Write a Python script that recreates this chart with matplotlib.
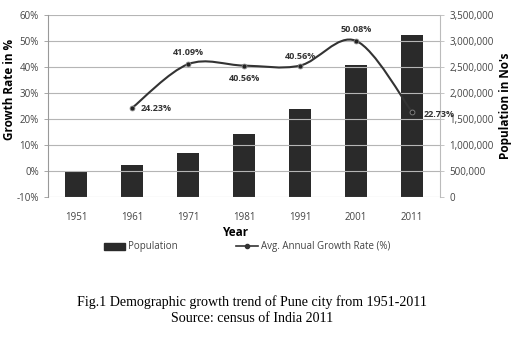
import numpy as np
import matplotlib.pyplot as plt
from matplotlib.path import Path
from matplotlib.patches import PathPatch
from matplotlib.lines import Line2D
from matplotlib.ticker import FuncFormatter

# data (census of India)
years = ['1951', '1961', '1971', '1981', '1991', '2001', '2011']
population = [488419, 606777, 856105, 1203351, 1691430, 2538473, 3124458]
growth_years = [1, 2, 3, 4, 5, 6]
growth_rate = [24.23, 41.09, 40.56, 40.56, 50.08, 22.73]
growth_labels = ['24.23%', '41.09%', '40.56%', '40.56%', '50.08%', '22.73%']

tick_font = 'Open Sans'
tick_col = '#444444'

fig = plt.figure(figsize=(5.27, 3.5), dpi=100)
ax = fig.add_axes([0.091, 0.437, 0.744, 0.52])
ax2 = ax.twinx()

x = np.arange(len(years))

# bars on right axis, line on left axis
ax2.bar(x, population, width=0.38, color='#2a2a2a', zorder=2)
ax2.set_ylim(0, 3500000)
ax2.set_yticks(np.arange(0, 3500001, 500000))
ax2.yaxis.set_major_formatter(FuncFormatter(lambda v, p: f'{int(v):,}'))

ax.set_ylim(-10, 60)
ax.set_yticks(np.arange(-10, 61, 10))
ax.yaxis.set_major_formatter(FuncFormatter(lambda v, p: f'{int(v)}%'))
ax.set_xlim(-0.5, 6.5)
ax.set_xticks(x)
ax.set_xticklabels(years)
ax.grid(axis='y', color='#b5b5b5', linewidth=0.8)
ax.set_axisbelow(True)

# line goes above the bars
ax.set_zorder(ax2.get_zorder() + 1)
ax.patch.set_visible(False)

# smoothed line like Excel (Catmull-Rom -> cubic Bezier)
px = np.array(growth_years, dtype=float)
py = np.array(growth_rate, dtype=float)
verts = [(px[0], py[0])]
codes = [Path.MOVETO]
n = len(px)
for i in range(n - 1):
    p0 = i - 1 if i > 0 else i
    p3 = i + 2 if i + 2 < n else i + 1
    c1 = (px[i] + (px[i + 1] - px[p0]) / 6, py[i] + (py[i + 1] - py[p0]) / 6)
    c2 = (px[i + 1] - (px[p3] - px[i]) / 6, py[i + 1] - (py[p3] - py[i]) / 6)
    verts += [c1, c2, (px[i + 1], py[i + 1])]
    codes += [Path.CURVE4] * 3
ax.add_patch(PathPatch(Path(verts, codes), fill=False, edgecolor='#333333',
                       linewidth=1.5, zorder=3))
ax.plot(px, py, 'o', color='#222222', markersize=3.5,
        markeredgecolor='#888888', markeredgewidth=0.6, zorder=4)

offsets = [(6, 0, 'left', 'center'), (0, 5, 'center', 'bottom'),
           (0, -6, 'center', 'top'), (0, 3, 'center', 'bottom'),
           (0, 5, 'center', 'bottom'), (8, -2, 'left', 'center')]
for xi, yi, lab, (dx, dy, ha, va) in zip(px, py, growth_labels, offsets):
    ax.annotate(lab, (xi, yi), xytext=(dx, dy), textcoords='offset points',
                ha=ha, va=va, fontsize=6.5, fontweight='bold', color='#333333',
                family=tick_font, zorder=5)

for a in (ax, ax2):
    for s in ('top', 'bottom'):
        a.spines[s].set_visible(False)
    a.spines['left'].set_color('#999999')
    a.spines['right'].set_color('#bbbbbb')
    a.tick_params(labelsize=7, colors=tick_col, length=3, width=0.6)
    for t in a.get_xticklabels() + a.get_yticklabels():
        t.set_family(tick_font)
ax.tick_params(axis='x', length=0, pad=11)
ax2.spines['left'].set_visible(False)
ax.spines['right'].set_visible(False)
ax.tick_params(axis='y', color='#999999')
ax2.tick_params(axis='y', color='#bbbbbb')

ax.set_ylabel('Growth Rate in %', fontsize=8.5, fontweight='bold', family=tick_font, va='center')
ax.yaxis.set_label_coords(-0.097, 0.59)
ax2.set_ylabel("Population in No's", fontsize=8.5, fontweight='bold', family=tick_font, va='center')
ax2.yaxis.set_label_coords(1.166, 0.5)
fig.text(235 / 527, 1 - 233 / 350, 'Year', ha='center', va='center',
         fontsize=8.5, fontweight='bold', family=tick_font)

handles = [plt.Rectangle((0, 0), 1, 1, color='#2a2a2a'),
           Line2D([], [], color='#333333', marker='o', markersize=3, linewidth=1.2)]
leg = fig.legend(handles, ['Population', 'Avg. Annual Growth Rate (%)'],
                 loc='center', bbox_to_anchor=(247 / 527, 1 - 247 / 350), ncol=2,
                 frameon=False, columnspacing=6, handlelength=2.2, handletextpad=0.3,
                 prop={'family': tick_font, 'size': 7})
for t in leg.get_texts():
    t.set_color(tick_col)

fig.text(252 / 527, 1 - 302 / 350, 'Fig.1 Demographic growth trend of Pune city from 1951-2011',
         ha='center', va='center', fontsize=10.1, family='Liberation Serif')
fig.text(252 / 527, 1 - 318 / 350, 'Source: census of India 2011',
         ha='center', va='center', fontsize=10.1, family='Liberation Serif')

fig.savefig('out.png', dpi=100)
